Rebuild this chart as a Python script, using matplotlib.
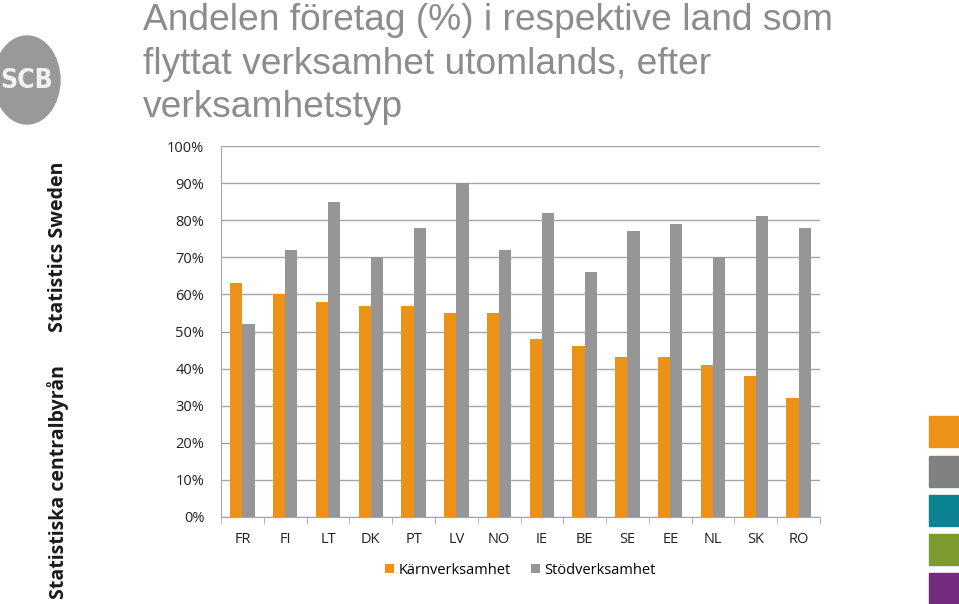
import matplotlib.pyplot as plt
import numpy as np
from matplotlib.patches import Ellipse, Rectangle
from matplotlib.ticker import FuncFormatter

# Data
lander = ['FR', 'FI', 'LT', 'DK', 'PT', 'LV', 'NO', 'IE', 'BE', 'SE', 'EE', 'NL', 'SK', 'RO']
karn = [63, 60, 58, 57, 57, 55, 55, 48, 46, 43, 43, 41, 38, 32]
stod = [52, 72, 85, 70, 78, 90, 72, 82, 66, 77, 79, 70, 81, 78]
serier = ['Kärnverksamhet', 'Stödverksamhet']
titel = ['Andelen företag (%) i respektive land som',
         'flyttat verksamhet utomlands, efter',
         'verksamhetstyp']

ORANGE = '#EB9217'
GRA = '#969696'
W, H = 959, 604

fig = plt.figure(figsize=(W / 100, H / 100), dpi=100)
fig.patch.set_facecolor('white')

# Axes placed in pixel coordinates
x0, x1, ytop, ybot = 221, 820, 146, 517
ax = fig.add_axes([x0 / W, 1 - ybot / H, (x1 - x0) / W, (ybot - ytop) / H])

x = np.arange(len(lander))
bw = 1 / 3.5
ax.bar(x - bw / 2, karn, bw, color=ORANGE, label=serier[0], zorder=3)
ax.bar(x + bw / 2, stod, bw, color=GRA, label=serier[1], zorder=3)

ax.set_xlim(-0.5, len(lander) - 0.5)
ax.set_ylim(0, 100)
ax.set_yticks(np.arange(0, 101, 10))
ax.yaxis.set_major_formatter(FuncFormatter(lambda v, p: f'{v:.0f}%'))
ax.grid(axis='y', color='#A6A6A6', linewidth=1, zorder=0)
ax.set_xticks(x)
ax.set_xticklabels(lander)
ax.set_xticks(np.arange(-0.5, len(lander), 1), minor=True)
ax.tick_params(axis='x', which='major', length=0, pad=11)
ax.tick_params(axis='x', which='minor', length=5, color='#A6A6A6', direction='out')
ax.tick_params(axis='y', length=0, pad=12)
for lab in ax.get_xticklabels() + ax.get_yticklabels():
    lab.set_fontfamily('Open Sans')
    lab.set_fontsize(10.5)
    lab.set_color('#222222')
for side in ['top', 'right']:
    ax.spines[side].set_visible(False)
for side in ['left', 'bottom']:
    ax.spines[side].set_color('#A6A6A6')

leg = ax.legend(loc='upper center', bbox_to_anchor=(0.5, -0.088), ncol=2, frameon=False,
                handlelength=0.6, handleheight=0.6, handletextpad=0.3, columnspacing=1.4,
                prop={'family': 'Open Sans', 'size': 10.5})

# Overlay axes in pixel coordinates for title, logo and squares
lax = fig.add_axes([0, 0, 1, 1], zorder=-1)
lax.set_xlim(0, W)
lax.set_ylim(H, 0)
lax.axis('off')

# Title, one line at a time
for rad, yb in zip(titel, [30, 74, 117]):
    lax.text(143, yb, rad, fontsize=26.7, color='#8C8C8C', family='Liberation Sans',
             ha='left', va='baseline')

# SCB logo
lax.add_patch(Ellipse((27, 80), 66, 88, color='#999999'))
lax.text(27, 81, 'SCB', color='#F2F2F2', fontsize=19, fontweight='bold', ha='center', va='center',
         family='DejaVu Sans', stretch='condensed')
lax.text(58, 247, 'Statistics Sweden', rotation=90, fontsize=14, fontweight='bold',
         ha='center', va='center', color='#1A1A1A', family='Open Sans')
lax.text(58, 482, 'Statistiska centralbyrån', rotation=90, fontsize=14, fontweight='bold',
         ha='center', va='center', color='#1A1A1A', family='Open Sans')

# Colour squares on the right
for y, c in zip([416, 456, 495, 534, 573], [ORANGE, '#808080', '#0B8390', '#7D9A2F', '#732C7D']):
    lax.add_patch(Rectangle((929, y), 31, 31, color=c))

plt.savefig('out.png', dpi=100, facecolor='white')
